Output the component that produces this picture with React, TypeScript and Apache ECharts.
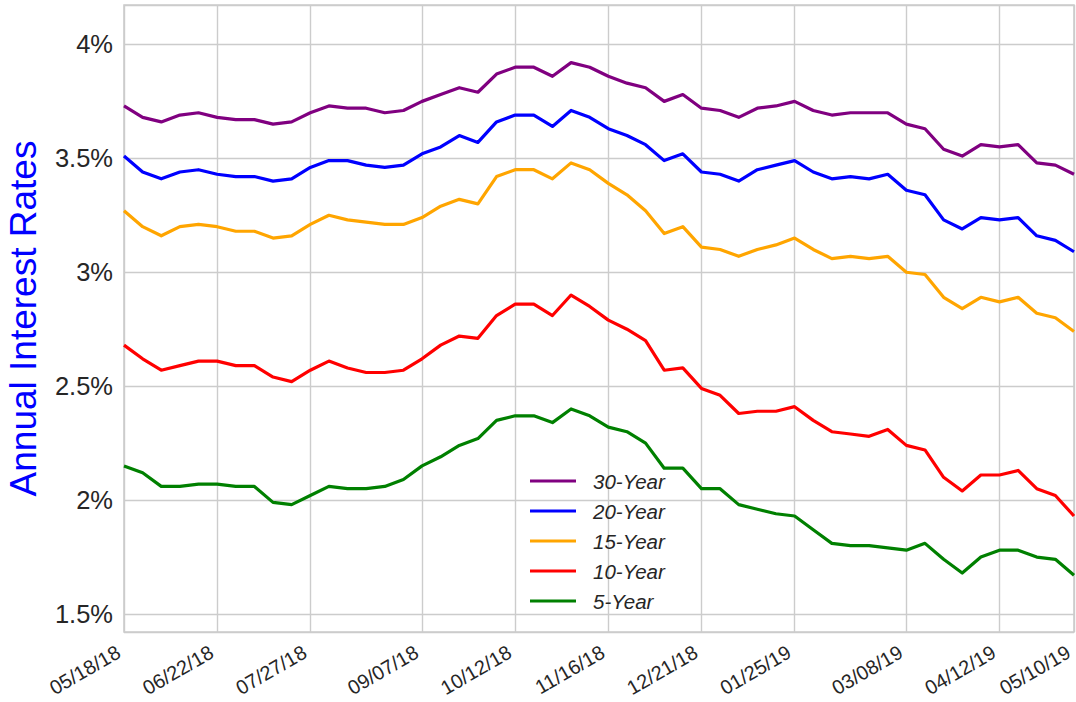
import React, { useEffect, useRef } from 'react';
import * as echarts from 'echarts';

const DATES = [
  '05/18/18', '05/25/18', '06/01/18', '06/08/18', '06/15/18', '06/22/18', '06/29/18', '07/06/18', '07/13/18', '07/20/18',
  '07/27/18', '08/03/18', '08/10/18', '08/17/18', '08/24/18', '08/31/18', '09/07/18', '09/14/18', '09/21/18', '09/28/18',
  '10/05/18', '10/12/18', '10/19/18', '10/26/18', '11/02/18', '11/09/18', '11/16/18', '11/23/18', '11/30/18', '12/07/18',
  '12/14/18', '12/21/18', '12/28/18', '01/04/19', '01/11/19', '01/18/19', '01/25/19', '02/01/19', '02/08/19', '02/15/19',
  '02/22/19', '03/01/19', '03/08/19', '03/15/19', '03/22/19', '03/29/19', '04/05/19', '04/12/19', '04/19/19', '04/26/19',
  '05/03/19', '05/10/19',
];

const TICK_DATES = [
  '05/18/18', '06/22/18', '07/27/18', '09/07/18', '10/12/18', '11/16/18',
  '12/21/18', '01/25/19', '03/08/19', '04/12/19', '05/10/19',
];

const Y_TICKS = [1.5, 2, 2.5, 3, 3.5, 4];

const RATE_30 = [
  3.73, 3.68, 3.66, 3.69, 3.70, 3.68, 3.67, 3.67, 3.65, 3.66, 3.70, 3.73, 3.72,
  3.72, 3.70, 3.71, 3.75, 3.78, 3.81, 3.79, 3.87, 3.90, 3.90, 3.86, 3.92, 3.90,
  3.86, 3.83, 3.81, 3.75, 3.78, 3.72, 3.71, 3.68, 3.72, 3.73, 3.75, 3.71, 3.69,
  3.70, 3.70, 3.70, 3.65, 3.63, 3.54, 3.51, 3.56, 3.55, 3.56, 3.48, 3.47, 3.43,
];

const RATE_20 = [
  3.51, 3.44, 3.41, 3.44, 3.45, 3.43, 3.42, 3.42, 3.40, 3.41, 3.46, 3.49, 3.49,
  3.47, 3.46, 3.47, 3.52, 3.55, 3.60, 3.57, 3.66, 3.69, 3.69, 3.64, 3.71, 3.68,
  3.63, 3.60, 3.56, 3.49, 3.52, 3.44, 3.43, 3.40, 3.45, 3.47, 3.49, 3.44, 3.41,
  3.42, 3.41, 3.43, 3.36, 3.34, 3.23, 3.19, 3.24, 3.23, 3.24, 3.16, 3.14, 3.09,
];

const RATE_15 = [
  3.27, 3.20, 3.16, 3.20, 3.21, 3.20, 3.18, 3.18, 3.15, 3.16, 3.21, 3.25, 3.23,
  3.22, 3.21, 3.21, 3.24, 3.29, 3.32, 3.30, 3.42, 3.45, 3.45, 3.41, 3.48, 3.45,
  3.39, 3.34, 3.27, 3.17, 3.20, 3.11, 3.10, 3.07, 3.10, 3.12, 3.15, 3.10, 3.06,
  3.07, 3.06, 3.07, 3.00, 2.99, 2.89, 2.84, 2.89, 2.87, 2.89, 2.82, 2.80, 2.74,
];

const RATE_10 = [
  2.68, 2.62, 2.57, 2.59, 2.61, 2.61, 2.59, 2.59, 2.54, 2.52, 2.57, 2.61, 2.58,
  2.56, 2.56, 2.57, 2.62, 2.68, 2.72, 2.71, 2.81, 2.86, 2.86, 2.81, 2.90, 2.85,
  2.79, 2.75, 2.70, 2.57, 2.58, 2.49, 2.46, 2.38, 2.39, 2.39, 2.41, 2.35, 2.30,
  2.29, 2.28, 2.31, 2.24, 2.22, 2.10, 2.04, 2.11, 2.11, 2.13, 2.05, 2.02, 1.93,
];

const RATE_5 = [
  2.15, 2.12, 2.06, 2.06, 2.07, 2.07, 2.06, 2.06, 1.99, 1.98, 2.02, 2.06, 2.05,
  2.05, 2.06, 2.09, 2.15, 2.19, 2.24, 2.27, 2.35, 2.37, 2.37, 2.34, 2.40, 2.37,
  2.32, 2.30, 2.25, 2.14, 2.14, 2.05, 2.05, 1.98, 1.96, 1.94, 1.93, 1.87, 1.81,
  1.80, 1.80, 1.79, 1.78, 1.81, 1.74, 1.68, 1.75, 1.78, 1.78, 1.75, 1.74, 1.67,
];

const SERIES_NAMES = ['30-Year', '20-Year', '15-Year', '10-Year', '5-Year'];
const SERIES_COLORS = ['#800080', '#0000ff', '#ffa500', '#ff0000', '#008000'];
const SERIES_VALUES = [RATE_30, RATE_20, RATE_15, RATE_10, RATE_5];

const FONT = "'Liberation Sans', Arial, Helvetica, sans-serif";
const TEXT_COLOR = '#262626';
const GRID_COLOR = '#cccccc';

export default function App() {
  const ref = useRef<HTMLDivElement>(null);

  useEffect(() => {
    if (!ref.current) return;
    const chart = echarts.init(ref.current, undefined, { renderer: 'svg' });
    const isTick = (_i: number, v: string) => TICK_DATES.includes(v);

    chart.setOption({
      animation: false,
      backgroundColor: '#ffffff',
      textStyle: { fontFamily: FONT },
      grid: {
        left: 124,
        right: 2,
        top: 5,
        bottom: 70,
        containLabel: false,
        outerBoundsMode: 'none',
        show: true,
        borderColor: GRID_COLOR,
        borderWidth: 1.6,
        backgroundColor: 'transparent',
      },
      legend: {
        orient: 'vertical',
        left: 530,
        top: 471,
        padding: 0,
        itemWidth: 46,
        itemHeight: 3,
        itemGap: 10,
        icon: 'rect',
        data: SERIES_NAMES,
        textStyle: {
          fontFamily: FONT,
          fontSize: 20.5,
          fontStyle: 'italic',
          color: TEXT_COLOR,
          lineHeight: 20,
          padding: [0, 0, 0, 12],
        },
      },
      xAxis: {
        type: 'category',
        data: DATES,
        boundaryGap: false,
        axisLine: { show: false },
        axisTick: { show: false },
        axisLabel: {
          interval: isTick,
          rotate: 30,
          margin: 28,
          align: 'right',
          verticalAlign: 'bottom',
          lineHeight: 22,
          fontSize: 20,
          color: TEXT_COLOR,
          fontFamily: FONT,
        },
        splitLine: {
          show: true,
          interval: isTick,
          lineStyle: { color: GRID_COLOR, width: 1.4 },
        },
      },
      yAxis: {
        type: 'value',
        min: 1.421,
        max: 4.173,
        name: 'Annual Interest Rates',
        nameLocation: 'middle',
        nameGap: 82,
        nameTextStyle: { color: '#0000ff', fontSize: 37, lineHeight: 37, fontFamily: FONT },
        axisLine: { show: false },
        axisTick: { show: false },
        axisLabel: {
          showMinLabel: false,
          showMaxLabel: false,
          margin: 11,
          fontSize: 25.5,
          color: TEXT_COLOR,
          fontFamily: FONT,
          formatter: (v: number) => {
            const hit = Y_TICKS.find((t) => Math.abs(t - v) < 1e-6);
            return hit === undefined ? '' : `${hit}%`;
          },
        },
        splitLine: { show: true, lineStyle: { color: GRID_COLOR, width: 1.4 } },
      },
      series: SERIES_NAMES.map((name, i) => ({
        name,
        type: 'line',
        data: SERIES_VALUES[i],
        symbol: 'none',
        color: SERIES_COLORS[i],
        lineStyle: { color: SERIES_COLORS[i], width: 3.2, join: 'round' },
      })),
    });

    return () => chart.dispose();
  }, []);

  return (
    <div
      ref={ref}
      style={{ position: 'fixed', left: 0, top: 0, width: 1076, height: 702, background: '#fff' }}
    />
  );
}
